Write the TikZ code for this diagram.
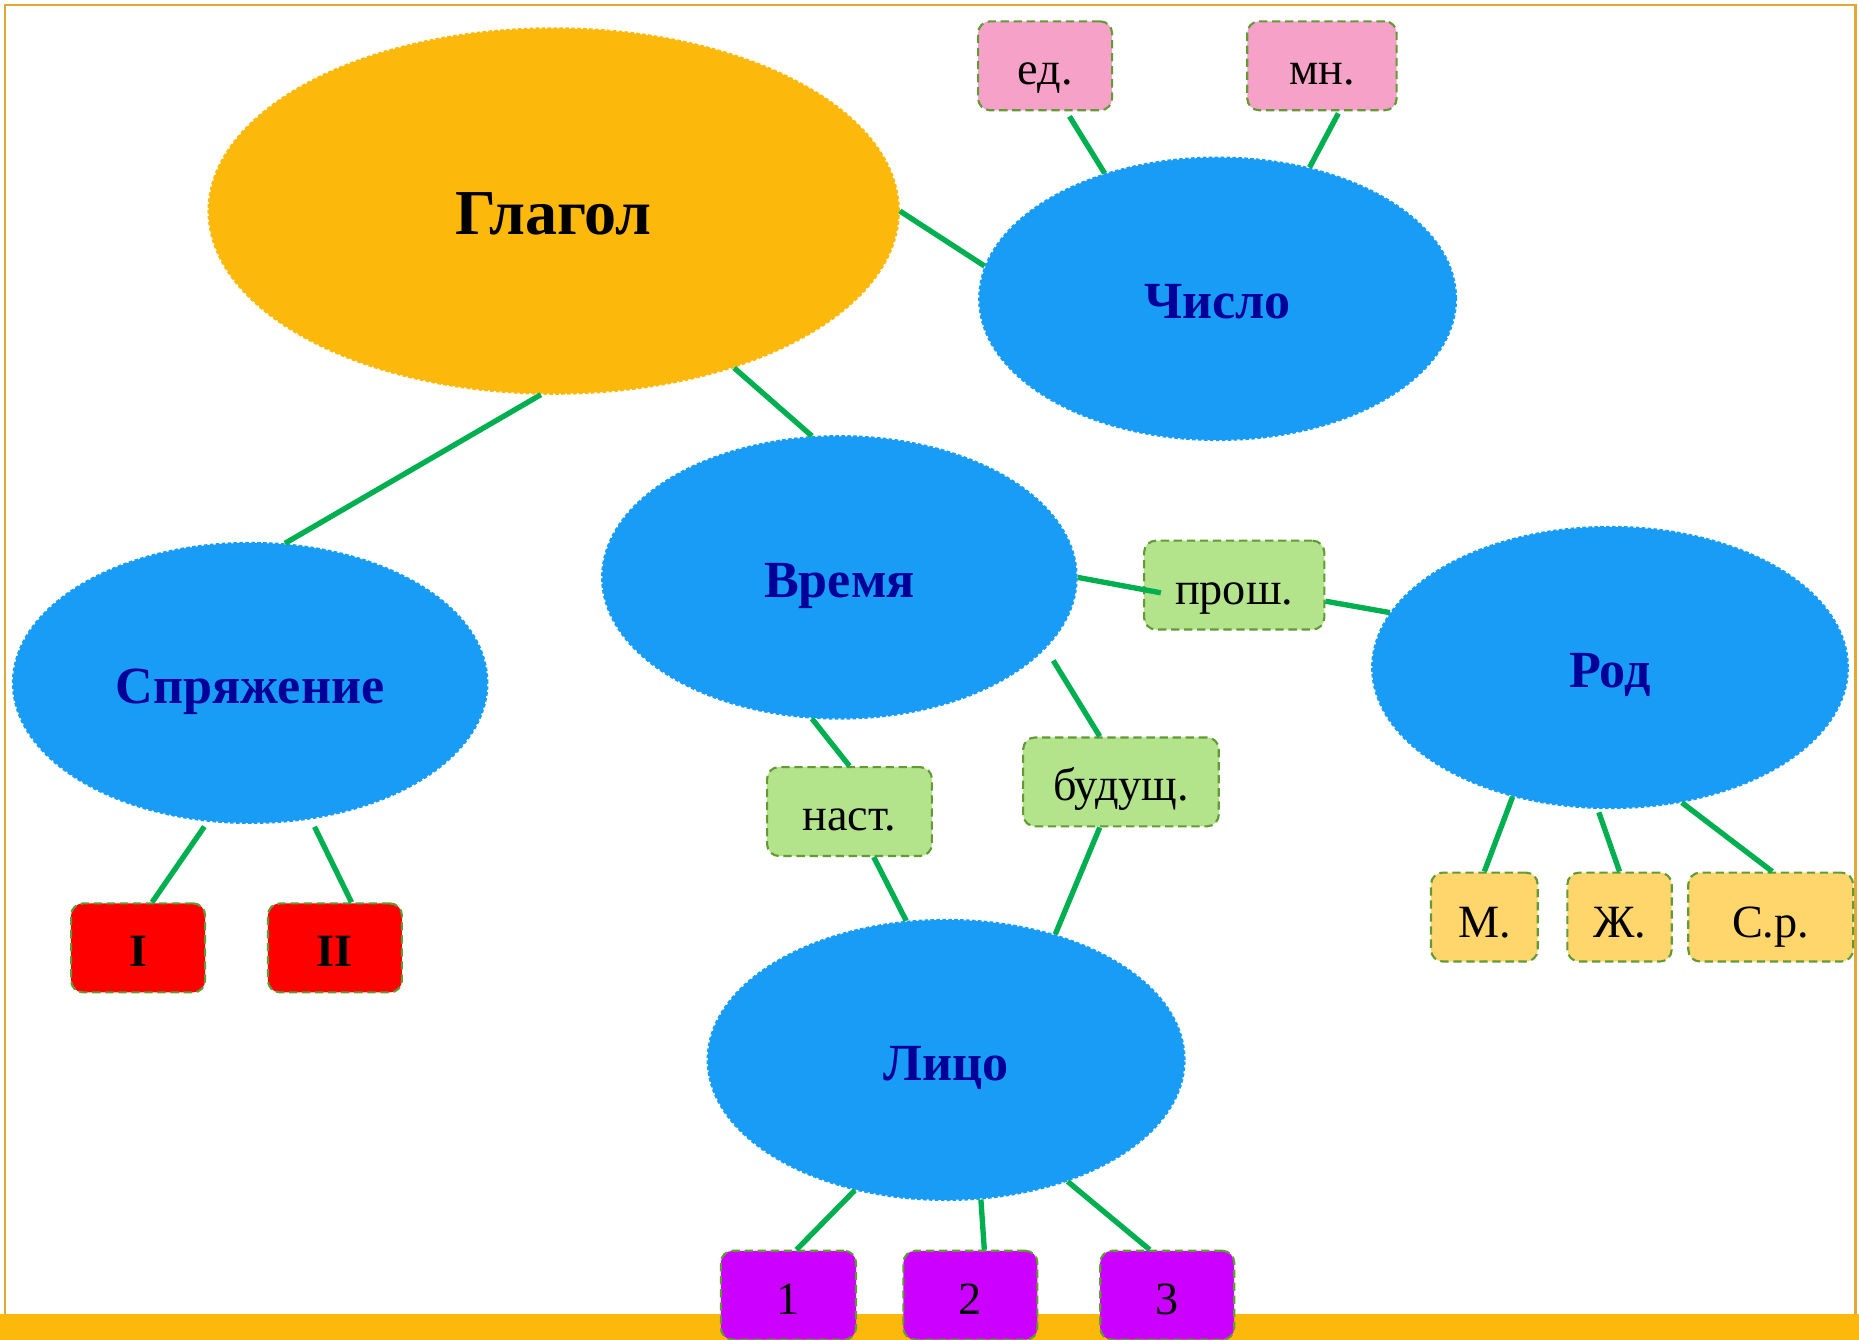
\documentclass[tikz,border=0pt]{standalone}
\usepackage{fontspec}
\setmainfont{Liberation Serif}
\usetikzlibrary{shapes.geometric}
\definecolor{gold}{RGB}{253,185,11}
\definecolor{framec}{RGB}{226,168,50}
\definecolor{sky}{RGB}{24,156,245}
\definecolor{navy}{RGB}{0,0,153}
\definecolor{olive}{RGB}{98,155,52}
\definecolor{conn}{RGB}{0,176,80}
\definecolor{pinkbox}{RGB}{245,161,200}
\definecolor{greenbox}{RGB}{179,227,139}
\definecolor{yellowbox}{RGB}{255,214,107}
\definecolor{purplebox}{RGB}{204,0,255}
\definecolor{redbox}{RGB}{255,0,0}
\begin{document}
\begin{tikzpicture}[x=1pt,y=-1pt,
 bubble/.style={ellipse, fill=sky, draw=sky, line width=2pt, dash pattern=on 3pt off 2pt, inner sep=0pt, text height=34pt, text depth=0pt, font=\fontsize{44}{50}\selectfont\bfseries, text=navy},
 tag/.style={rectangle, rounded corners=10pt, draw=olive, line width=1.8pt, dash pattern=on 7pt off 4pt, inner sep=0pt, minimum height=75pt, text height=32pt, text depth=0pt, font=\fontsize{39}{44}\selectfont, text=black},
 link/.style={draw=conn, line width=4.5pt}]
\useasboundingbox (0,0) rectangle (1568,1130);
\fill[white] (0,0) rectangle (1568,1130);
\draw[framec, line width=2pt] (4,4) rectangle (1565,1132);
\fill[gold] (0,1108) rectangle (1568,1130);

% ellipses
\node[bubble, fill=gold, draw=gold, text=black, text height=40pt, font=\fontsize{54}{60}\selectfont\bfseries, minimum width=582pt, minimum height=308pt] (glagol) at (467,178) {Глагол};
\node[bubble, minimum width=402pt, minimum height=238pt] (chislo) at (1027,252) {Число};
\node[bubble, minimum width=400pt, minimum height=238pt] (vremya) at (708,487) {Время};
\node[bubble, minimum width=400pt, minimum height=236pt] (spr) at (211,576) {Спряжение};
\node[bubble, minimum width=401pt, minimum height=237pt] (rod) at (1358,563) {Род};
\node[bubble, minimum width=402pt, minimum height=236pt] (lico) at (798,894) {Лицо};

% boxes
\node[tag, fill=pinkbox, minimum width=113pt] (ed) at (881.5,55.5) {ед.};
\node[tag, fill=pinkbox, minimum width=126pt] (mn) at (1115,55.5) {мн.};
\node[tag, fill=greenbox, minimum width=152pt] (prosh) at (1041,493.5) {прош.};
\node[tag, fill=greenbox, minimum width=139pt] (nast) at (716.5,684.5) {наст.};
\node[tag, fill=greenbox, minimum width=165pt] (bud) at (945.5,659.5) {будущ.};
\node[tag, fill=redbox, minimum width=113pt, font=\fontsize{39}{44}\selectfont\bfseries] (ci) at (116.5,799.5) {I};
\node[tag, fill=redbox, minimum width=113pt, font=\fontsize{39}{44}\selectfont\bfseries] (cii) at (282.5,799.5) {II};
\node[tag, fill=yellowbox, minimum width=90pt, text height=34pt] (m) at (1252,773.5) {М.};
\node[tag, fill=yellowbox, minimum width=88pt, text height=34pt] (zh) at (1366,773.5) {Ж.};
\node[tag, fill=yellowbox, minimum width=139pt, text height=34pt] (sr) at (1493.5,773.5) {С.р.};
\node[tag, fill=purplebox, minimum width=114pt] (n1) at (665,1092.5) {1};
\node[tag, fill=purplebox, minimum width=113pt] (n2) at (818.5,1092.5) {2};
\node[tag, fill=purplebox, minimum width=113pt] (n3) at (984.5,1092.5) {3};

% connectors
\draw[link] (glagol.0) -- (chislo.172);
\draw[link] (glagol.266.6) -- (spr.76.5);
\draw[link] (glagol.-41) -- (vremya.101);
\draw[link, shorten <=5pt] (ed.-65) -- (chislo.132);
\draw[link, shorten <=2pt] (mn.-69.5) -- (chislo.55);
\draw[link] (vremya.0) -- ([xshift=15pt,yshift=-6.5pt]prosh.west);
\draw[link] (prosh.-10.8) -- (rod.166.5);
\draw[link] (vremya.259) -- (nast.90);
\draw[link] (nast.-62.5) -- (lico.106.8);
\draw[link, shorten <=12pt] (vremya.-19) -- (bud.115);
\draw[link] (bud.245) -- (lico.49.7);
\draw[link, shorten <=5pt] (spr.-107.3) -- (ci.73);
\draw[link, shorten <=7pt] (spr.-66.5) -- (cii.70.2);
\draw[link] (rod.233) -- (m.north);
\draw[link, shorten <=3pt] (rod.265.4) -- (zh.north);
\draw[link] (rod.-62.5) -- (sr.88);
\draw[link] (lico.235.7) -- (n1.80.9);
\draw[link] (lico.-76.9) -- (n2.73);
\draw[link] (lico.-45) -- (n3.111);
\end{tikzpicture}
\end{document}
